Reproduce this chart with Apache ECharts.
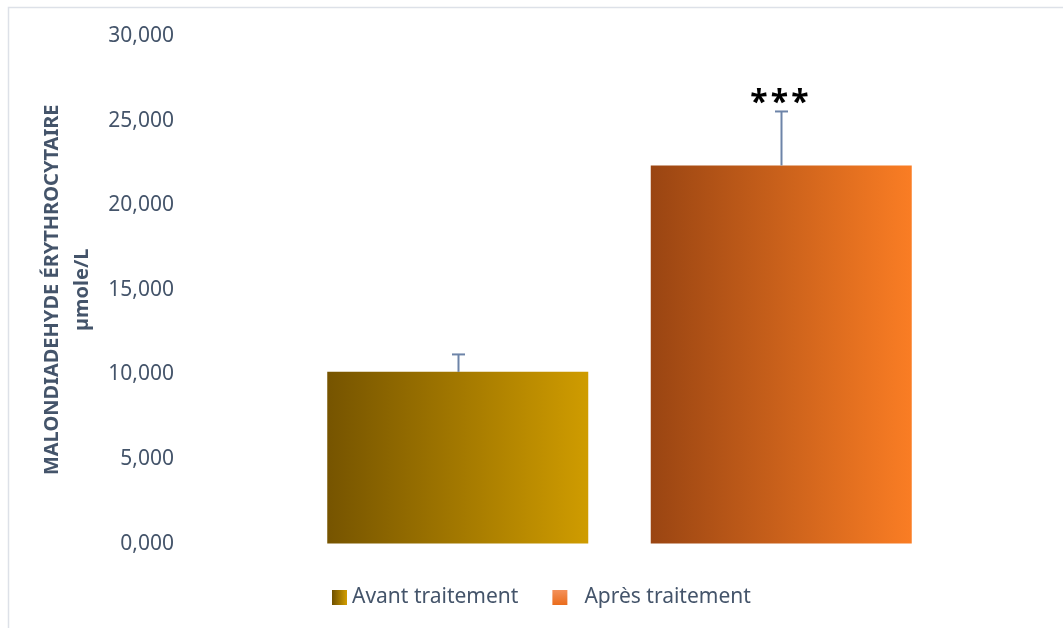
<!DOCTYPE html>
<html>
<head>
<meta charset="utf-8">
<script src="https://cdn.jsdelivr.net/npm/echarts@6/dist/echarts.min.js"></script>
<style>
  html, body { margin: 0; padding: 0; background: #ffffff; }
  #chart { width: 1063px; height: 628px; }
</style>
</head>
<body>
<div id="chart"></div>
<script>
// Groups, mean values and standard deviations (µmole/L)
const categories = ['Avant traitement', 'Après traitement'];
const meanAvant = 10150;
const meanApres = 22350;
const errors = [1030, 3190];
const significance = ['', '***'];
const yTicks = [0, 5000, 10000, 15000, 20000, 25000, 30000];

const means = [meanAvant, meanApres];
const FONT = '"Noto Sans", "Open Sans", sans-serif';
const TEXT_COLOR = '#44546a';

function hGrad(c0, c1) {
  return new echarts.graphic.LinearGradient(0, 0, 1, 0, [
    { offset: 0, color: c0 },
    { offset: 1, color: c1 }
  ]);
}

const chart = echarts.init(document.getElementById('chart'), null, { renderer: 'canvas' });

const option = {
  backgroundColor: '#ffffff',
  animation: false,
  graphic: [{
    type: 'rect',
    shape: { x: 8.5, y: 7.5, width: 1200, height: 800 },
    style: { fill: 'none', stroke: '#dde1e8', lineWidth: 1.5 },
    silent: true
  }],
  grid: { left: 296, right: 120, top: 36, bottom: 628 - 543.6 },
  legend: {
    left: 327,
    top: 582,
    itemWidth: 15,
    itemHeight: 15,
    itemGap: 34,
    textStyle: { fontFamily: FONT, fontSize: 21, color: TEXT_COLOR },
    data: [
      { name: categories[0], icon: 'rect',
        itemStyle: { color: hGrad('#6f5000', '#d39e00') } },
      { name: categories[1], icon: 'rect',
        itemStyle: { color: new echarts.graphic.LinearGradient(0, 0, 0, 1, [
          { offset: 0, color: '#f4915a' }, { offset: 1, color: '#ea6c1c' }]) },
        textStyle: { padding: [0, 0, 0, 12] } }
    ]
  },
  xAxis: {
    type: 'category',
    data: categories,
    axisLine: { show: false },
    axisTick: { show: false },
    axisLabel: { show: false },
    splitLine: { show: false }
  },
  yAxis: {
    type: 'value',
    min: 0,
    max: 30000,
    interval: 5000,
    name: 'MALONDIADEHYDE ÉRYTHROCYTAIRE\nµmole/L',
    nameLocation: 'middle',
    nameGap: 196,
    nameRotate: 90,
    nameTextStyle: {
      fontFamily: FONT, fontSize: 20, fontWeight: 'bold', color: TEXT_COLOR,
      lineHeight: 30, align: 'center'
    },
    axisLine: { show: false },
    axisTick: { show: false },
    splitLine: { show: false },
    axisLabel: {
      margin: 122,
      fontFamily: FONT,
      fontSize: 21,
      color: TEXT_COLOR,
      formatter: function (v) {
        if (yTicks.indexOf(v) < 0) return '';
        const s = String(v / 1000 | 0);
        const r = String(v % 1000).padStart(3, '0');
        return s + ',' + r;
      }
    }
  },
  series: [
    {
      name: categories[0],
      type: 'bar',
      barWidth: 261,
      barGap: '-100%',
      data: [meanAvant, '-'],
      itemStyle: { color: hGrad('#765400', '#cf9c00') }
    },
    {
      name: categories[1],
      type: 'bar',
      barWidth: 261,
      barGap: '-100%',
      data: ['-', meanApres],
      itemStyle: { color: hGrad('#9a4512', '#fa7d24') }
    },
    {
      name: 'err',
      type: 'custom',
      silent: true,
      z: 5,
      data: means.map(function (m, i) { return [i, m, errors[i]]; }),
      renderItem: function (params, api) {
        const i = api.value(0);
        const m = api.value(1);
        const e = api.value(2);
        const base = api.coord([i, m]);
        const top = api.coord([i, m + e]);
        const x = Math.round(base[0]) + 0.5;
        const children = [
          { type: 'line', shape: { x1: x, y1: base[1], x2: x, y2: top[1] },
            style: { stroke: '#6d84a8', lineWidth: 2 } },
          { type: 'line', shape: { x1: x - 6.5, y1: top[1], x2: x + 6.5, y2: top[1] },
            style: { stroke: '#6d84a8', lineWidth: 2 } }
        ];
        const sig = significance[params.dataIndex];
        if (sig) {
          children.push({
            type: 'text',
            style: {
              text: sig.split('').join('\u200a'), x: x - 2, y: top[1] + 8,
              align: 'center', verticalAlign: 'bottom',
              font: 'bold 32px ' + FONT, fill: '#000000'
            }
          });
        }
        return { type: 'group', children: children };
      }
    }
  ]
};

chart.setOption(option);
</script>
</body>
</html>
